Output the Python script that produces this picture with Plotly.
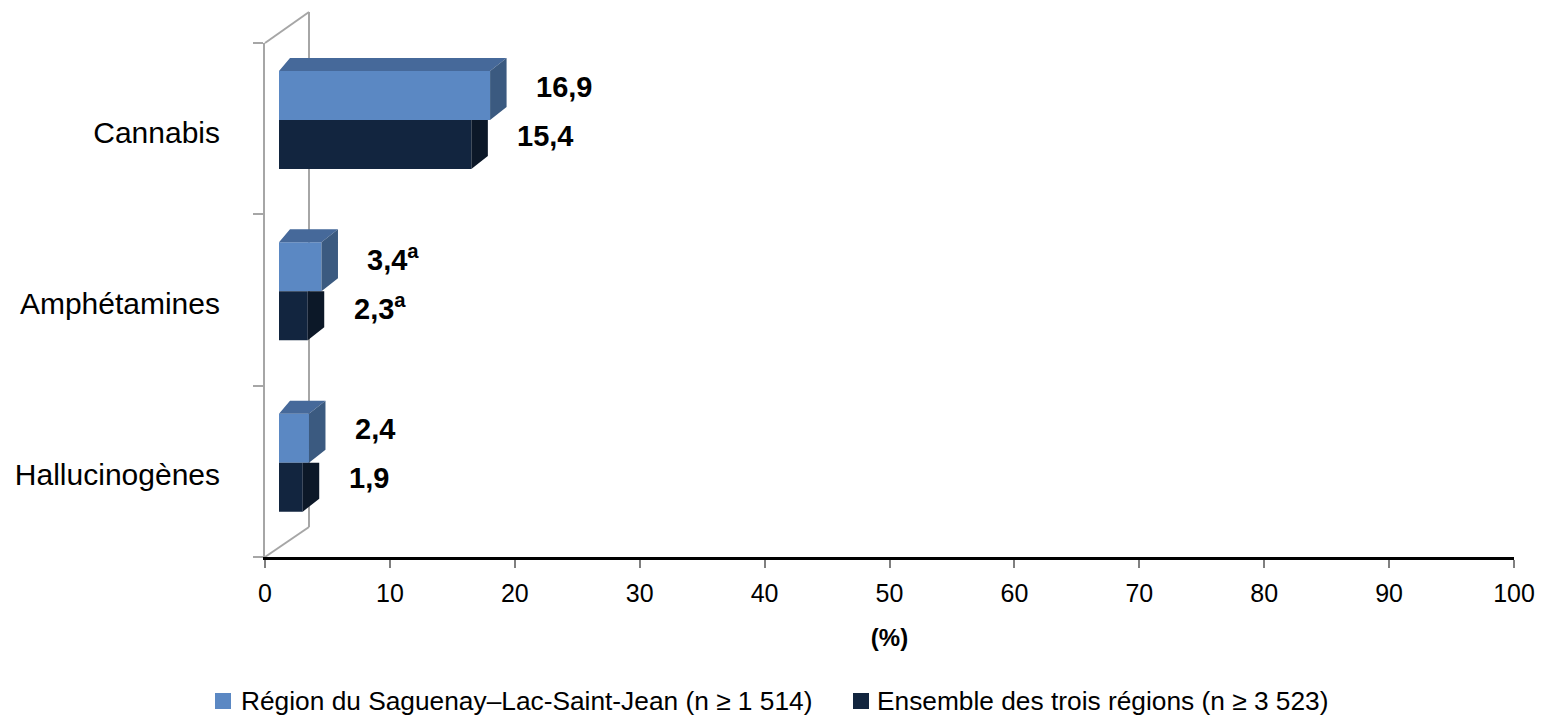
import plotly.graph_objects as go

# ---------------- data ----------------
categories = ["Cannabis", "Amphétamines", "Hallucinogènes"]
region_vals = [16.9, 3.4, 2.4]
ensemble_vals = [15.4, 2.3, 1.9]
region_text = ["16,9", "3,4<sup>a</sup>", "2,4"]
ensemble_text = ["15,4", "2,3<sup>a</sup>", "1,9"]
series_names = ["Région du Saguenay–Lac-Saint-Jean (n ≥ 1 514)",
                "Ensemble des trois régions (n ≥ 3 523)"]
x_ticks = [0, 10, 20, 30, 40, 50, 60, 70, 80, 90, 100]
x_title = "(%)"

# ---------------- style / geometry ----------------
W, H = 1543, 717
PL, PR, PT, PB = 265, 1514, 43, 557          # plot area in pixels
PXX = (PR - PL) / 100.0                      # px per x unit
PXY = (PB - PT) / 3.0                        # px per category
BASE = 14 / PXX                              # 3D front offset
BAR_W = 49 / PXY
BLUE_C = -0.5 + (95.5 - PT) / PXY
DARK_C = BLUE_C + BAR_W
DY = 13 / PXY
DXL = 11 / PXX
DXR = 16.5 / PXX
LABEL_DY = 9 / PXY
CAT_LABEL_SHIFT = 3.5 / PXY

C_BLUE = "#5b88c3"
C_BLUE_TOP = "#46699a"
C_BLUE_SIDE = "#3b5a80"
C_DARK = "#12253f"
C_DARK_SIDE = "#0c1828"
WALL = "#a6a6a6"

FONT = "Liberation Sans, Arial, sans-serif"

fig = go.Figure()
idx = list(range(len(categories)))
colors = [C_BLUE, C_DARK]

fig.add_trace(go.Bar(orientation="h", y=[i + BLUE_C for i in idx], x=region_vals,
                     base=BASE, width=BAR_W, marker=dict(color=C_BLUE, line=dict(width=0)),
                     name=series_names[0], hoverinfo="x+name", showlegend=False))
fig.add_trace(go.Bar(orientation="h", y=[i + DARK_C for i in idx], x=ensemble_vals,
                     base=BASE, width=BAR_W, marker=dict(color=C_DARK, line=dict(width=0)),
                     name=series_names[1], hoverinfo="x+name", showlegend=False))

# 3D faces computed from the values
dark_side_x, dark_side_y = [], []
blue_top_x, blue_top_y = [], []
blue_side_x, blue_side_y = [], []
for i, vb, vd in zip(idx, region_vals, ensemble_vals):
    bt = i + BLUE_C - BAR_W / 2
    bb = i + BLUE_C + BAR_W / 2
    dt = i + DARK_C - BAR_W / 2
    db = i + DARK_C + BAR_W / 2
    rb = BASE + vb
    rd = BASE + vd
    dark_side_x += [rd, rd + DXR, rd + DXR, rd, None]
    dark_side_y += [dt, dt, db - DY, db, None]
    blue_top_x += [BASE, rb, rb + DXR, BASE + DXL, None]
    blue_top_y += [bt, bt, bt - DY, bt - DY, None]
    blue_side_x += [rb, rb + DXR, rb + DXR, rb, None]
    blue_side_y += [bt, bt - DY, bb - DY, bb, None]

for xs, ys, col in [(dark_side_x, dark_side_y, C_DARK_SIDE),
                    (blue_top_x, blue_top_y, C_BLUE_TOP),
                    (blue_side_x, blue_side_y, C_BLUE_SIDE)]:
    fig.add_trace(go.Scatter(x=xs, y=ys, mode="lines", fill="toself", fillcolor=col,
                             line=dict(width=0, color=col), showlegend=False,
                             hoverinfo="skip"))

# value labels
for i, vb, vd, tb, td in zip(idx, region_vals, ensemble_vals, region_text, ensemble_text):
    fig.add_annotation(x=BASE + vb, y=i + BLUE_C - LABEL_DY, text="<b>" + tb + "</b>",
                       xanchor="left", yanchor="middle", xshift=44, showarrow=False,
                       font=dict(family=FONT, size=29, color="black"))
    fig.add_annotation(x=BASE + vd, y=i + DARK_C - LABEL_DY, text="<b>" + td + "</b>",
                       xanchor="left", yanchor="middle", xshift=44, showarrow=False,
                       font=dict(family=FONT, size=29, color="black"))

# pixel -> paper helpers for decorations
def px(xp):
    return (xp - PL) / (PR - PL)

def py(yp):
    return (PB - yp) / (PB - PT)

# 3D side wall lines
wall = [((PL, PT), (309, 12)), ((309, 12), (309, 527)), ((PL, PB), (309, 527))]
for (x0, y0), (x1, y1) in wall:
    fig.add_shape(type="line", xref="paper", yref="paper",
                  x0=px(x0), y0=py(y0), x1=px(x1), y1=py(y1),
                  line=dict(color=WALL, width=2), layer="below")

# legend (squares + text)
legend_pos = [(215, 239), (853, 875)]
for (sx, tx), name, col in zip(legend_pos, series_names, colors):
    fig.add_shape(type="rect", xref="paper", yref="paper",
                  x0=px(sx), x1=px(sx + 16), y0=py(693), y1=py(709),
                  fillcolor=col, line=dict(width=0))
    fig.add_annotation(xref="paper", yref="paper", x=px(tx), y=py(701), text=name,
                       xanchor="left", yanchor="middle", showarrow=False,
                       font=dict(family=FONT, size=26.3, color="black"))

fig.update_layout(
    width=W, height=H,
    margin=dict(l=PL, r=W - PR, t=PT, b=H - PB, autoexpand=False),
    paper_bgcolor="white", plot_bgcolor="white",
    barmode="overlay",
    showlegend=False,
    xaxis=dict(range=[0, 100], tickvals=x_ticks, ticktext=[str(t) for t in x_ticks],
               showgrid=False, zeroline=False, showline=True, linecolor="black", linewidth=2.5,
               ticks="outside", ticklen=8, tickwidth=1.5, tickcolor="#808080",
               ticklabelstandoff=4,
               tickfont=dict(family=FONT, size=25, color="black"),
               title=dict(text="<b>" + x_title + "</b>", font=dict(family=FONT, size=24, color="black"),
                          standoff=24)),
    yaxis=dict(range=[2.5, -0.5], tickvals=[i + CAT_LABEL_SHIFT for i in idx], ticktext=categories,
               showgrid=False, zeroline=False, showline=True, linecolor=WALL, linewidth=2,
               ticks="", ticklabelstandoff=37,
               minor=dict(tickvals=[-0.5, 0.5, 1.5, 2.5], ticks="outside", ticklen=10,
                          tickwidth=1.5, tickcolor=WALL),
               tickfont=dict(family=FONT, size=30, color="black")),
)

fig.write_html("out.html", config={"displayModeBar": False},
               post_script="document.body.style.margin='0';")
